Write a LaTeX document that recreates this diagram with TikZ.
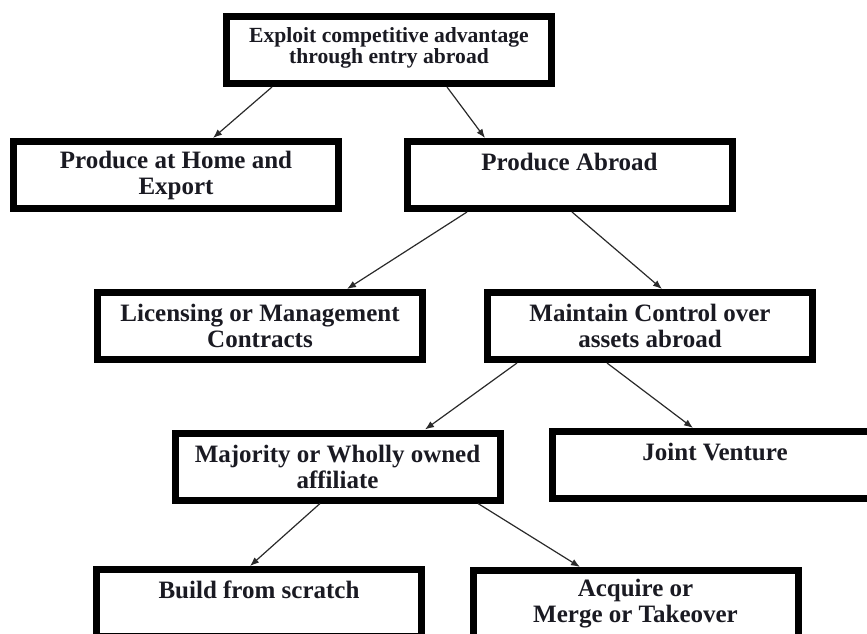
\documentclass[tikz,border=0pt]{standalone}
\usepackage{fontspec}
\setmainfont{Liberation Serif}
\usetikzlibrary{arrows.meta}
\definecolor{ink}{HTML}{1A1A22}
\definecolor{wire}{HTML}{2A2A2A}
\tikzset{
  box/.style={draw=black, line width=7pt, fill=white, rectangle,
    minimum width=325pt, minimum height=67pt, inner sep=0pt,
    align=center, text=ink, font=\bfseries\fontsize{25}{26}\selectfont},
  topbox/.style={box, font=\bfseries\fontsize{21.6}{20.5}\selectfont},
  link/.style={draw=wire, line width=1.2pt, -{Latex[length=9pt,width=7pt]}}
}
\begin{document}
\begin{tikzpicture}[x=1pt, y=-1pt]
  \useasboundingbox (0,0) rectangle (867,634);
  \clip (0,0) rectangle (867,634);

  % decision boxes
  \node[topbox] (root) at (389,50) {Exploit competitive advantage\\through entry abroad\\[-12pt]\mbox{}};
  \node[box] (home) at (176,175) {Produce at Home and\\Export};
  \node[box] (abroad) at (569.5,175) {Produce Abroad\\\mbox{}};
  \node[box] (lic) at (260,326) {Licensing or Management\\Contracts};
  \node[box] (ctrl) at (650,326) {Maintain Control over\\assets abroad};
  \node[box] (maj) at (337.5,466.5) {Majority or Wholly owned\\affiliate};
  \node[box] (jv) at (715,465) {Joint Venture\\\mbox{}};
  \node[box] (build) at (259,603) {Build from scratch\\\mbox{}};
  \node[box] (acq) at (635.5,604) {Acquire or\\Merge or Takeover};

  % connectors
  \draw[link] ([xshift=-117pt]root.south) -- ([xshift=37pt]home.north);
  \draw[link] ([xshift=58pt]root.south) -- ([xshift=-84.5pt]abroad.north);
  \draw[link] ([xshift=-102.5pt]abroad.south) -- ([xshift=87pt]lic.north);
  \draw[link] ([xshift=2.5pt]abroad.south) -- ([xshift=12pt]ctrl.north);
  \draw[link] ([xshift=-133pt]ctrl.south) -- ([xshift=87.5pt]maj.north);
  \draw[link] ([xshift=-43pt]ctrl.south) -- ([xshift=-22pt]jv.north);
  \draw[link] ([xshift=-17.5pt]maj.south) -- ([xshift=-9pt]build.north);
  \draw[link] ([xshift=140.5pt]maj.south) -- ([xshift=-55.5pt]acq.north);
\end{tikzpicture}
\end{document}
